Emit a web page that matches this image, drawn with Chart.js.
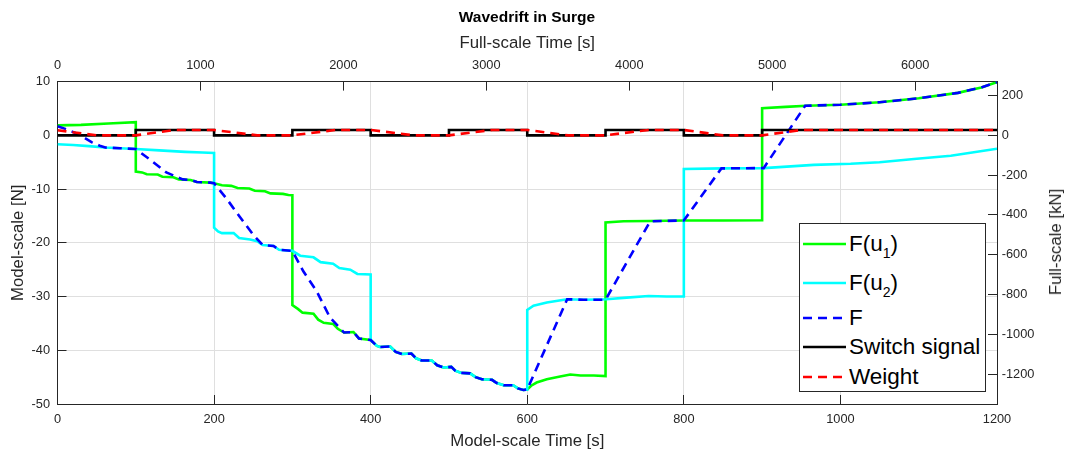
<!DOCTYPE html>
<html lang="en">
<head>
<meta charset="UTF-8">
<title>Wavedrift in Surge</title>
<script src="https://cdn.jsdelivr.net/npm/chart.js@4.4.1/dist/chart.umd.min.js"></script>
<style>
  body { margin: 0; background: #fff; }
  .wrap { position: relative; width: 1072px; height: 452px; font-family: "Liberation Sans", Arial, sans-serif; }
  #y2title { position: absolute; left: 1056px; top: 242px; transform: translate(-50%, -50%) rotate(-90deg);
             font-size: 16.8px; color: #262626; white-space: nowrap; }
  #legend { position: absolute; left: 799px; top: 223px; width: 187px; height: 169px; box-sizing: border-box;
            border: 1px solid #262626; background: #fff; font-size: 22.5px; color: #000; }
  #legend .row { position: absolute; left: 3px; height: 26px; display: flex; align-items: center; white-space: nowrap; }
  #legend svg { display: block; margin-right: 3px; }
  #legend span { line-height: 26px; }
  #legend sub { font-size: 14px; vertical-align: -6.6px; line-height: 0; }
</style>
</head>
<body>
<div class="wrap">
  <canvas id="chart" width="1072" height="452"></canvas>
  <div id="y2title">Full-scale [kN]</div>
  <div id="legend"></div>
</div>

<script>
// model scale 1:30 -> time x sqrt(30), force x 30^3 (N -> kN: x27)
const scaleRatio = 30;
const timeFactor = Math.sqrt(scaleRatio);
const forceFactor = Math.pow(scaleRatio, 3) / 1000;

const timeTicks = [0, 200, 400, 600, 800, 1000, 1200];
const forceTicks = [-50, -40, -30, -20, -10, 0, 10];
const fullTimeTicks = [0, 1000, 2000, 3000, 4000, 5000, 6000];
const fullForceTicks = [-1200, -1000, -800, -600, -400, -200, 0, 200];

// F(u1)
const u1Time = [0, 30, 65, 100, 100, 108, 114, 128, 134, 148, 155, 170, 178, 195, 200, 210, 222, 230, 245, 252, 265, 272, 288, 295, 300,
  300, 307, 313, 327, 333, 340, 352, 358, 366, 378, 385, 400,
  408, 412, 425, 432, 440, 452, 458, 465, 478, 485, 493, 503, 508, 515, 527, 534, 542, 555, 561, 570, 582, 588, 595, 600,
  605, 612, 625, 642, 655, 668, 685, 700, 700, 723, 757, 800, 850, 900, 900, 930, 957, 1000, 1050, 1100, 1150, 1180, 1200];
const u1Force = [1.85, 1.95, 2.2, 2.45, -6.75, -6.9, -7.25, -7.3, -7.7, -7.8, -8.2, -8.3, -8.7, -8.8, -8.9, -9.3, -9.4, -9.8, -9.9, -10.3, -10.4, -10.8, -10.9, -11.1, -11.15,
  -31.6, -32.3, -33.0, -33.2, -34.3, -34.9, -35.1, -36.0, -36.7, -36.6, -37.8, -38.1,
  -39.2, -39.4, -39.3, -40.3, -40.7, -40.6, -41.5, -41.9, -41.9, -42.8, -43.2, -43.1, -43.8, -44.2, -44.3, -45.0, -45.4, -45.5, -46.1, -46.5, -46.5, -47.1, -47.4, -47.3,
  -46.6, -46.0, -45.4, -44.9, -44.5, -44.7, -44.7, -44.8, -16.2, -16.0, -15.95, -15.85, -15.85, -15.8, 5.05, 5.3, 5.5, 5.7, 6.15, 6.9, 7.9, 8.9, 9.9];

// F(u2)
const u2Time = [0, 20, 40, 61, 80, 100, 130, 163, 185, 200, 200, 205, 210, 225, 232, 246, 255, 262, 276, 283, 300, 310, 327, 336, 352, 360, 374, 383, 400,
  400, 408, 412, 425, 432, 440, 452, 458, 465, 478, 485, 493, 503, 508, 515, 527, 534, 542, 555, 561, 570, 582, 588, 595, 600,
  600, 608, 625, 651, 672, 701, 727, 755, 778, 800, 800, 850, 902, 966, 1013, 1050, 1094, 1141, 1200];
const u2Force = [-1.66, -1.8, -2.0, -2.27, -2.4, -2.55, -2.8, -3.07, -3.2, -3.3, -17.2, -17.9, -18.2, -18.2, -19.1, -19.4, -19.7, -20.4, -20.6, -21.3, -21.5, -22.4, -22.7, -23.6, -23.9, -24.7, -25.0, -25.8, -25.9,
  -38.1, -39.2, -39.4, -39.3, -40.3, -40.7, -40.6, -41.5, -41.9, -41.9, -42.8, -43.2, -43.1, -43.8, -44.2, -44.3, -45.0, -45.4, -45.5, -46.1, -46.5, -46.5, -47.1, -47.4, -47.3,
  -32.5, -31.7, -31.1, -30.5, -30.6, -30.5, -30.2, -29.9, -30.0, -30.0, -6.26, -6.15, -6.1, -5.5, -5.3, -5.0, -4.4, -3.8, -2.5];

// blended force F
const fTime = [0, 12, 25, 35, 44, 55, 61, 80, 100, 117, 139, 160, 170, 178, 195, 200, 216, 233, 250, 262, 276, 283, 300, 314, 331, 348, 366, 378, 385, 400,
  408, 412, 425, 432, 440, 452, 458, 465, 478, 485, 493, 503, 508, 515, 527, 534, 542, 555, 561, 570, 582, 588, 595, 600,
  651, 672, 700, 757, 800, 848, 902, 955, 1000, 1050, 1100, 1150, 1180, 1200];
const fForce = [1.7, 1.1, 0.3, -0.5, -1.3, -2.0, -2.27, -2.4, -2.55, -4.4, -6.9, -8.2, -8.3, -8.7, -8.8, -8.9, -11.8, -15.2, -18.5, -20.4, -20.6, -21.3, -21.5, -25.3, -29.0, -33.9, -36.7, -36.6, -37.8, -38.1,
  -39.2, -39.4, -39.3, -40.3, -40.7, -40.6, -41.5, -41.9, -41.9, -42.8, -43.2, -43.1, -43.8, -44.2, -44.3, -45.0, -45.4, -45.5, -46.1, -46.5, -46.5, -47.1, -47.4, -47.3,
  -30.5, -30.6, -30.6, -16.0, -15.85, -6.15, -6.1, 5.5, 5.7, 6.15, 6.9, 7.9, 8.9, 9.9];

// switch signal, held until the next change
const switchTime = [0, 100, 200, 300, 400, 500, 600, 700, 800, 900, 1200];
const switchValue = [0, 1, 0, 1, 0, 1, 0, 1, 0, 1, 1];

// weight
const weightTime = [0, 50, 100, 150, 200, 255, 300, 355, 400, 455, 500, 555, 600, 652, 700, 755, 800, 850, 900, 950, 1200];
const weightValue = [0.95, 0, 0, 1, 1, 0, 0, 1, 1, 0, 0, 1, 1, 0, 0, 1, 1, 0, 0, 1, 1];

const seriesNames = ['F(u1)', 'F(u2)', 'F', 'Switch signal', 'Weight'];
const seriesColors = ['#00ff00', '#00ffff', '#0000ff', '#000000', '#ff0000'];

const fontFamily = '"Liberation Sans", Arial, sans-serif';
const axisColor = '#262626';
const gridColor = '#dfdfdf';

function points(xs, ys) {
  return xs.map((x, i) => ({ x: x, y: ys[i] }));
}

function lineSet(i, xs, ys, extra) {
  return Object.assign({
    label: seriesNames[i],
    data: points(xs, ys),
    borderColor: seriesColors[i],
    backgroundColor: seriesColors[i],
    borderWidth: 2.6,
    pointRadius: 0,
    tension: 0,
    fill: false,
    xAxisID: 'x',
    yAxisID: 'y'
  }, extra);
}

// fixed tick positions, plain number labels
function fixedTicks(values) {
  return scale => { scale.ticks = values.map(v => ({ value: v })); };
}
const plain = v => String(v);

const dash = [9, 6];
const datasets = [
  lineSet(0, u1Time, u1Force, { order: 5 }),
  lineSet(1, u2Time, u2Force, { order: 4 }),
  lineSet(2, fTime, fForce, { order: 3, borderDash: dash }),
  lineSet(3, switchTime, switchValue, { order: 2, stepped: 'before' }),
  lineSet(4, weightTime, weightValue, { order: 1, borderDash: dash })
];

const tickFont = { family: fontFamily, size: 12.8 };
const titleFont = { family: fontFamily, size: 16.8 };

const tMin = timeTicks[0], tMax = timeTicks[timeTicks.length - 1];
const fMin = forceTicks[0], fMax = forceTicks[forceTicks.length - 1];

new Chart(document.getElementById('chart'), {
  type: 'line',
  data: { datasets: datasets },
  options: {
    responsive: false,
    animation: false,
    devicePixelRatio: 1,
    layout: { padding: { left: 0, right: 18, top: 0, bottom: 0 } },
    plugins: {
      legend: { display: false },
      tooltip: { enabled: false },
      title: {
        display: true,
        text: 'Wavedrift in Surge',
        color: '#000',
        font: { family: fontFamily, size: 15.5, weight: 'bold' },
        padding: { top: 8, bottom: 4 }
      }
    },
    scales: {
      x: {
        type: 'linear', position: 'bottom',
        min: tMin, max: tMax,
        afterBuildTicks: fixedTicks(timeTicks),
        ticks: { callback: plain, color: axisColor, font: tickFont, padding: 16.7, maxRotation: 0, autoSkip: false },
        grid: { color: gridColor, tickLength: -9, tickColor: axisColor },
        border: { color: axisColor, width: 1 },
        title: { display: true, text: 'Model-scale Time [s]', color: axisColor, font: titleFont, padding: { top: 0, bottom: 0.4 } },
        afterFit: s => { s.height = 48; }
      },
      x2: {
        type: 'linear', position: 'top',
        min: tMin * timeFactor, max: tMax * timeFactor,
        afterBuildTicks: fixedTicks(fullTimeTicks),
        ticks: { callback: plain, color: axisColor, font: tickFont, padding: 17.2, maxRotation: 0, autoSkip: false },
        grid: { drawOnChartArea: false, tickLength: -9, tickColor: axisColor },
        border: { color: axisColor, width: 1 },
        title: { display: true, text: 'Full-scale Time [s]', color: axisColor, font: titleFont, padding: { top: 2.6, bottom: 0 } },
        afterFit: s => { s.height = 51; }
      },
      y: {
        type: 'linear', position: 'left',
        min: fMin, max: fMax,
        afterBuildTicks: fixedTicks(forceTicks),
        ticks: { callback: plain, color: axisColor, font: tickFont, padding: 16.5, autoSkip: false },
        grid: { color: gridColor, tickLength: -9, tickColor: axisColor },
        border: { color: axisColor, width: 1 },
        title: { display: true, text: 'Model-scale [N]', color: axisColor, font: titleFont, padding: { top: 8.4, bottom: 0 } },
        afterFit: s => { s.width = 57.5; }
      },
      y2: {
        type: 'linear', position: 'right',
        min: fMin * forceFactor, max: fMax * forceFactor,
        afterBuildTicks: fixedTicks(fullForceTicks),
        ticks: { callback: plain, color: axisColor, font: tickFont, padding: 13.7, autoSkip: false },
        grid: { drawOnChartArea: false, tickLength: -9, tickColor: axisColor },
        border: { color: axisColor, width: 1 },
        afterFit: s => { s.width = 57; }
      }
    }
  }
});

// legend with subscripted labels and line samples
const legendRows = [
  { html: 'F(u<sub>1</sub>)', top: 7.3 },
  { html: 'F(u<sub>2</sub>)', top: 46.3 },
  { html: 'F', top: 80.7 },
  { html: 'Switch signal', top: 109.7 },
  { html: 'Weight', top: 139.7 }
];
const legend = document.getElementById('legend');
legendRows.forEach((row, i) => {
  const ds = datasets[i];
  const dashAttr = ds.borderDash ? ` stroke-dasharray="${ds.borderDash.join(' ')}"` : '';
  const div = document.createElement('div');
  div.className = 'row';
  div.style.top = row.top + 'px';
  div.innerHTML = `<svg width="43" height="6"><line x1="0" y1="3" x2="43" y2="3" stroke="${ds.borderColor}" stroke-width="2.6"${dashAttr}/></svg><span>${row.html}</span>`;
  legend.appendChild(div);
});
</script>
</body>
</html>
